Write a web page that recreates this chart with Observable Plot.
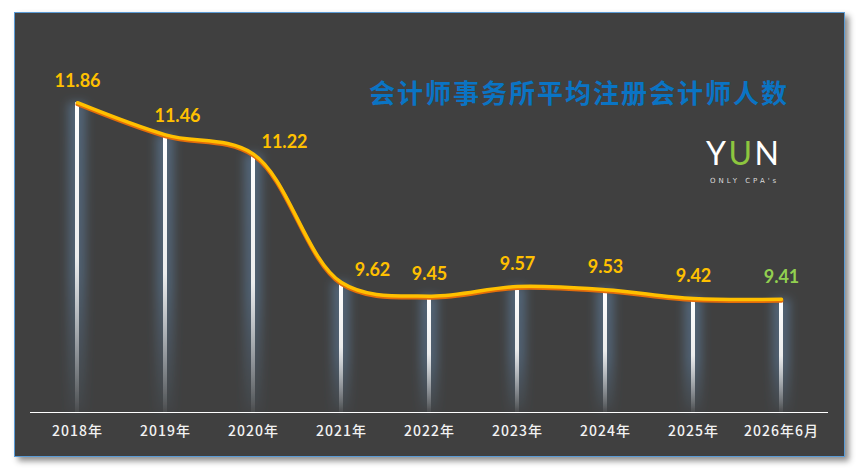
<!DOCTYPE html>
<html><head><meta charset="utf-8">
<script src="https://cdn.jsdelivr.net/npm/d3@7"></script>
<script src="https://cdn.jsdelivr.net/npm/@observablehq/plot@0.6"></script>
<style>
body{margin:0;background:#fff;width:863px;height:471px;overflow:hidden;position:relative;font-family:"Noto Sans CJK SC",sans-serif}
#panel{position:absolute;left:14px;top:12px;width:831px;height:445px;box-sizing:border-box;background:#404040;border:1px solid #5B9BD5;box-shadow:4px 4px 6px rgba(0,0,0,.45)}
#chart{position:absolute;left:0;top:0;width:863px;height:471px}
#title{position:absolute;left:369px;top:76px;font-weight:bold;font-size:26px;font-family:"Noto Sans CJK SC";letter-spacing:2px;color:#0A74C4;white-space:nowrap;line-height:32px}
#logo{position:absolute;left:706px;top:134px;font-family:Lato;font-size:32px;letter-spacing:2.5px;color:#fff;line-height:38px;white-space:nowrap}
#logo span{color:#8DC63F}
#tag{position:absolute;left:710px;top:177px;font-family:"DejaVu Sans";font-size:7px;letter-spacing:3px;color:#dddddd;white-space:nowrap;line-height:9px}
</style></head><body>
<div id="panel"></div>
<div id="chart"></div>
<div id="title">会计师事务所平均注册会计师人数</div>
<div id="logo">Y<span>U</span>N</div>
<div id="tag">ONLY CPA's</div>
<script>
const years = ["2018年","2019年","2020年","2021年","2022年","2023年","2024年","2025年","2026年6月"];
const values = [11.86, 11.46, 11.22, 9.62, 9.45, 9.57, 9.53, 9.42, 9.41];
const data = years.map((year, i) => ({year, value: values[i], i}));
const last = years.length - 1;
const labelColor = d => d.i === last ? "#92D050" : "#FFC000";
const textOpts = {x: "year", y: "value", text: d => d.value.toFixed(2), fill: labelColor,
  fontFamily: "Lato", fontWeight: "bold", fontSize: 18};

const chart = Plot.plot({
  width: 863, height: 471,
  marginLeft: 30, marginRight: 35, marginTop: 91, marginBottom: 59,
  style: {background: "transparent", overflow: "visible", fontFamily: "Noto Sans CJK SC"},
  x: {type: "band", domain: years, padding: 0, label: null},
  y: {domain: [8, 12], axis: null},
  color: {type: "identity"},
  marks: [
    Plot.barY(data, {x: "year", y1: 8, y2: "value", fill: "url(#glowGrad)", insetLeft: 35, insetRight: 35}),
    Plot.barY(data, {x: "year", y1: 8, y2: "value", fill: "url(#barGrad)", insetLeft: 42, insetRight: 42}),
    Plot.ruleY([8], {stroke: "#ffffff", strokeWidth: 1.2}),
    Plot.line(data, {x: "year", y: "value", curve: "catmull-rom", stroke: "#E46C0A", strokeWidth: 4, dy: 1.5}),
    Plot.line(data, {x: "year", y: "value", curve: "catmull-rom", stroke: "#FFC000", strokeWidth: 3.5}),
    Plot.text(data.filter(d => d.i === 0 || d.i >= 4), {...textOpts, dy: -22}),
    Plot.text(data.filter(d => d.i === 1), {...textOpts, dx: 12, dy: -19}),
    Plot.text(data.filter(d => d.i === 2 || d.i === 3), {...textOpts, dx: 31, dy: -12}),
    Plot.axisX({tickSize: 0, tickPadding: 14, fontSize: 14, fontWeight: 500, color: "#F2F2F2", label: null})
  ]
});

const svg = d3.select(chart);
const defs = svg.insert("defs", ":first-child");
defs.html(`
  <linearGradient id="barGrad" x1="0" y1="0" x2="0" y2="1">
    <stop offset="0" stop-color="#ffffff" stop-opacity="1"/>
    <stop offset="0.5" stop-color="#f4f4f4" stop-opacity="0.95"/>
    <stop offset="1" stop-color="#ffffff" stop-opacity="0.05"/>
  </linearGradient>
  <linearGradient id="glowGrad" x1="0" y1="0" x2="0" y2="1">
    <stop offset="0" stop-color="#6d9ccc" stop-opacity="0.4"/>
    <stop offset="0.55" stop-color="#6d9ccc" stop-opacity="0.35"/>
    <stop offset="1" stop-color="#6d9ccc" stop-opacity="0.05"/>
  </linearGradient>
  <filter id="blur" x="-100%" y="-10%" width="300%" height="120%">
    <feGaussianBlur stdDeviation="5"/>
  </filter>`);
svg.selectAll('g[aria-label="bar"]').filter((d, i) => i === 0).attr("filter", "url(#blur)");
svg.selectAll('g[aria-label="x-axis tick label"]').style("letter-spacing", "1px");
document.getElementById("chart").appendChild(chart);
</script>
</body></html>
